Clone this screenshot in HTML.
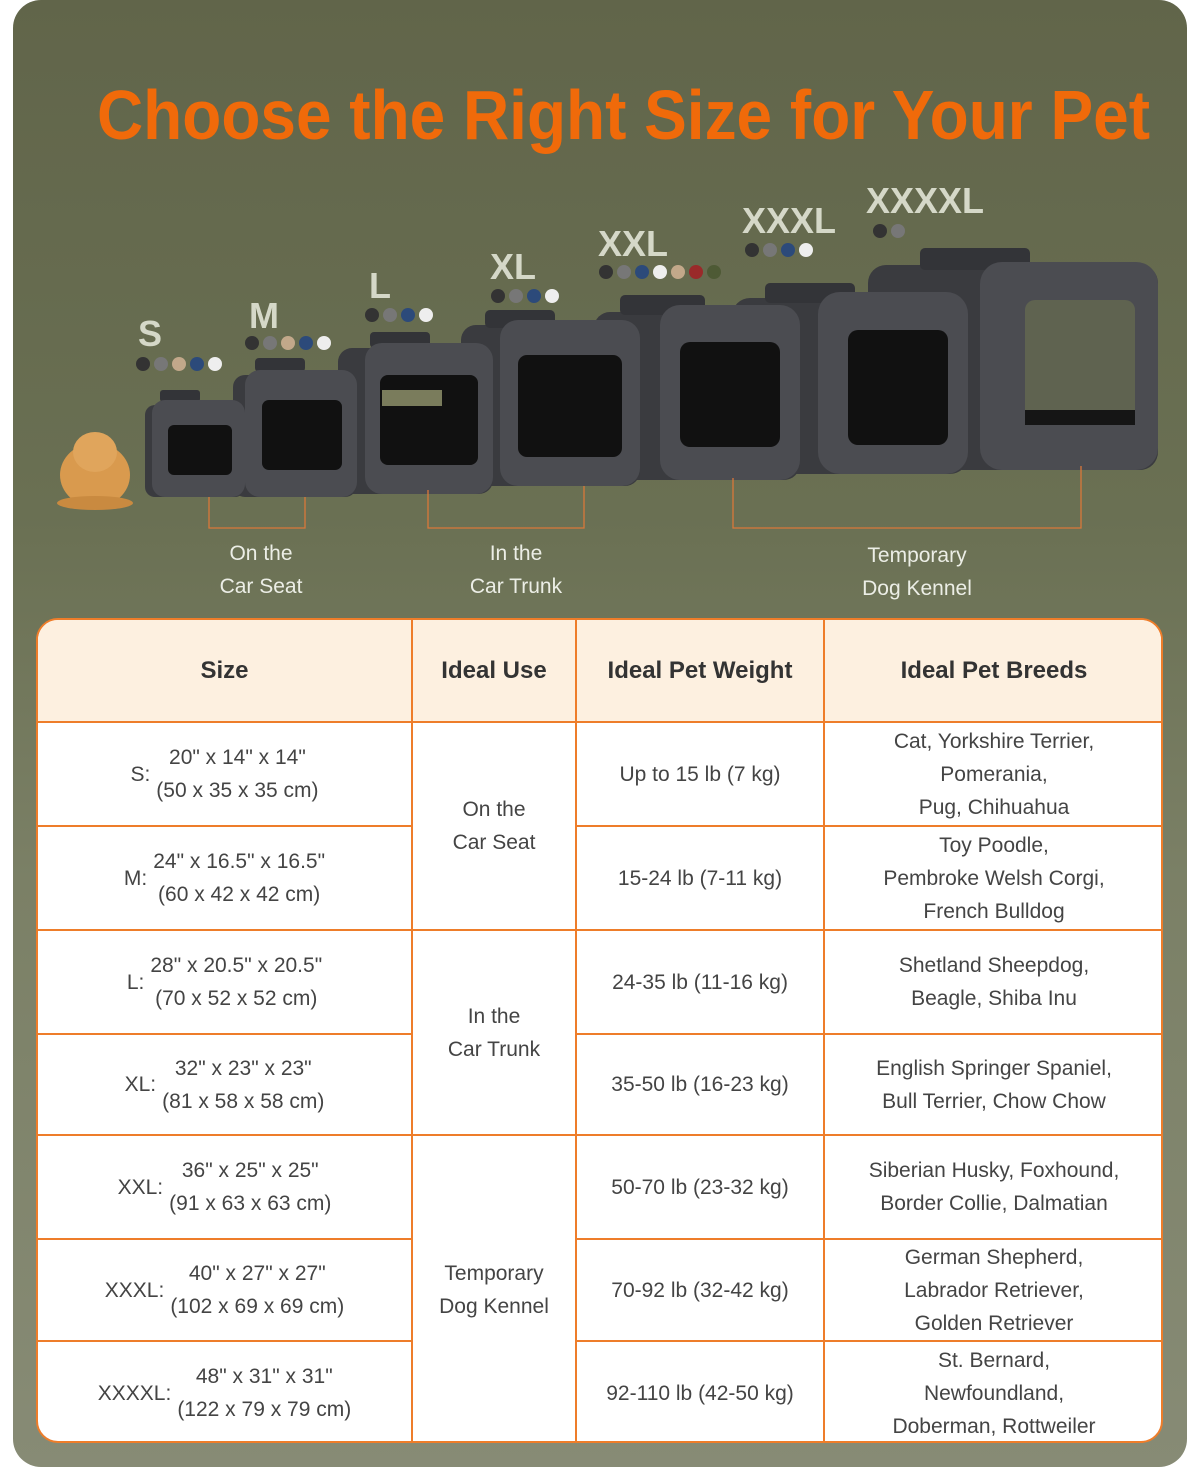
<!DOCTYPE html>
<html><head><meta charset="utf-8"><style>
html,body{margin:0;padding:0;background:#fff;}
#card{position:absolute;left:13px;top:0;width:1174px;height:1467px;border-radius:28px;background:linear-gradient(180deg,#61654a 0%,#6a7053 35%,#7b8066 60%,#878b75 100%);overflow:hidden;}
.ab{position:absolute;}
.lbl{position:absolute;color:#eceee6;font:21px "Liberation Sans",sans-serif;text-align:center;line-height:33px;}
#tw{position:absolute;left:36px;top:618px;width:1123px;height:821px;border:2px solid #ee7d2a;border-radius:22px;overflow:hidden;background:#fff;}
table{border-collapse:collapse;width:1127px;margin:-2px 0 0 -2px;font:21px "Liberation Sans",sans-serif;color:#444;table-layout:fixed;}
td,th{border:2px solid #ee7d2a;text-align:center;vertical-align:middle;padding:0;line-height:33px;}
th{background:#fdf0e0;color:#333;font-weight:bold;font-size:24px;height:101px;}
.sz{display:flex;align-items:center;justify-content:center;gap:6px;}
</style></head><body>
<div id="card">
<svg class="ab" style="left:-13px;top:0" width="1200" height="620" xmlns="http://www.w3.org/2000/svg">
<text x="97" y="139" textLength="1053" lengthAdjust="spacingAndGlyphs" font-family="Liberation Sans" font-weight="bold" font-size="70" fill="#f06a0a">Choose the Right Size for Your Pet</text>
<g font-family="Liberation Sans" font-weight="bold" fill="#d5d8c8" font-size="36">
<text x="138" y="346">S</text><text x="249" y="328">M</text><text x="369" y="298">L</text><text x="490" y="279">XL</text><text x="598" y="256">XXL</text><text x="742" y="233">XXXL</text><text x="866" y="213">XXXXL</text></g>
<g>
<circle cx="143" cy="364" r="7" fill="#333"/><circle cx="161" cy="364" r="7" fill="#777"/><circle cx="179" cy="364" r="7" fill="#c2a88a"/><circle cx="197" cy="364" r="7" fill="#2c4a7a"/><circle cx="215" cy="364" r="7" fill="#eee"/>
<circle cx="252" cy="343" r="7" fill="#333"/><circle cx="270" cy="343" r="7" fill="#777"/><circle cx="288" cy="343" r="7" fill="#c2a88a"/><circle cx="306" cy="343" r="7" fill="#2c4a7a"/><circle cx="324" cy="343" r="7" fill="#eee"/>
<circle cx="372" cy="315" r="7" fill="#333"/><circle cx="390" cy="315" r="7" fill="#777"/><circle cx="408" cy="315" r="7" fill="#2c4a7a"/><circle cx="426" cy="315" r="7" fill="#eee"/>
<circle cx="498" cy="296" r="7" fill="#333"/><circle cx="516" cy="296" r="7" fill="#777"/><circle cx="534" cy="296" r="7" fill="#2c4a7a"/><circle cx="552" cy="296" r="7" fill="#eee"/>
<circle cx="606" cy="272" r="7" fill="#333"/><circle cx="624" cy="272" r="7" fill="#777"/><circle cx="642" cy="272" r="7" fill="#2c4a7a"/><circle cx="660" cy="272" r="7" fill="#eee"/><circle cx="678" cy="272" r="7" fill="#c2a88a"/><circle cx="696" cy="272" r="7" fill="#9a2a2a"/><circle cx="714" cy="272" r="7" fill="#4e5a35"/>
<circle cx="752" cy="250" r="7" fill="#333"/><circle cx="770" cy="250" r="7" fill="#777"/><circle cx="788" cy="250" r="7" fill="#2c4a7a"/><circle cx="806" cy="250" r="7" fill="#eee"/>
<circle cx="880" cy="231" r="7" fill="#333"/><circle cx="898" cy="231" r="7" fill="#777"/>
</g>
<!-- dog -->
<ellipse cx="95" cy="475" rx="35" ry="32" fill="#d99a4e"/><ellipse cx="95" cy="452" rx="22" ry="20" fill="#e0a55c"/><ellipse cx="95" cy="503" rx="38" ry="7" fill="#c98a40"/>
<!-- crates -->
<g>
<rect x="868" y="265" width="290" height="205" rx="18" fill="#3a3b3f"/><rect x="920" y="248" width="110" height="22" rx="5" fill="#333438"/><rect x="980" y="262" width="178" height="208" rx="22" fill="#4b4c51"/><rect x="1025" y="300" width="110" height="125" rx="10" fill="#5f6350"/><rect x="1025" y="410" width="110" height="15" fill="#151515"/>
<rect x="732" y="298" width="236" height="176" rx="18" fill="#3a3b3f"/><rect x="765" y="283" width="90" height="20" rx="5" fill="#333438"/><rect x="818" y="292" width="150" height="182" rx="22" fill="#4b4c51"/><rect x="848" y="330" width="100" height="115" rx="10" fill="#111"/>
<rect x="594" y="312" width="206" height="168" rx="16" fill="#3a3b3f"/><rect x="620" y="295" width="85" height="20" rx="5" fill="#333438"/><rect x="660" y="305" width="140" height="175" rx="20" fill="#4b4c51"/><rect x="680" y="342" width="100" height="105" rx="10" fill="#111"/>
<rect x="461" y="325" width="179" height="161" rx="15" fill="#3a3b3f"/><rect x="485" y="310" width="70" height="18" rx="5" fill="#333438"/><rect x="500" y="320" width="140" height="166" rx="18" fill="#4b4c51"/><rect x="518" y="355" width="104" height="102" rx="9" fill="#111"/>
<rect x="338" y="348" width="155" height="146" rx="14" fill="#3a3b3f"/><rect x="370" y="332" width="60" height="16" rx="4" fill="#333438"/><rect x="365" y="343" width="128" height="151" rx="17" fill="#4b4c51"/><rect x="380" y="375" width="98" height="90" rx="8" fill="#111"/><rect x="382" y="390" width="60" height="16" fill="#7a7c5c"/>
<rect x="233" y="375" width="124" height="122" rx="12" fill="#3a3b3f"/><rect x="255" y="358" width="50" height="14" rx="4" fill="#333438"/><rect x="245" y="370" width="112" height="127" rx="15" fill="#4b4c51"/><rect x="262" y="400" width="80" height="70" rx="7" fill="#111"/>
<rect x="145" y="405" width="100" height="92" rx="10" fill="#3a3b3f"/><rect x="160" y="390" width="40" height="12" rx="3" fill="#333438"/><rect x="152" y="400" width="93" height="97" rx="13" fill="#4b4c51"/><rect x="168" y="425" width="64" height="50" rx="6" fill="#111"/>
</g>
<g stroke="#d9783a" stroke-width="1.3" fill="none">
<path d="M209 497 V528 H305 V497"/><path d="M428 490 V528 H584 V486"/><path d="M733 478 V528 H1081 V466"/>
</g>
</svg>
<div class="lbl" style="left:188px;top:537px;width:120px">On the<br>Car Seat</div>
<div class="lbl" style="left:443px;top:537px;width:120px">In the<br>Car Trunk</div>
<div class="lbl" style="left:824px;top:539px;width:160px">Temporary<br>Dog Kennel</div>
</div>
<div id="tw"><table>
<colgroup><col style="width:375px"><col style="width:164px"><col style="width:248px"><col style="width:340px"></colgroup>
<tr><th>Size</th><th>Ideal Use</th><th>Ideal Pet Weight</th><th>Ideal Pet Breeds</th></tr>
<tr style="height:104px"><td><div class="sz"><span>S:</span><span>20" x 14" x 14"<br>(50 x 35 x 35 cm)</span></div></td><td rowspan="2">On the<br>Car Seat</td><td>Up to 15 lb (7 kg)</td><td>Cat, Yorkshire Terrier,<br>Pomerania,<br>Pug, Chihuahua</td></tr>
<tr style="height:104px"><td><div class="sz"><span>M:</span><span>24" x 16.5" x 16.5"<br>(60 x 42 x 42 cm)</span></div></td><td>15-24 lb (7-11 kg)</td><td>Toy Poodle,<br>Pembroke Welsh Corgi,<br>French Bulldog</td></tr>
<tr style="height:104px"><td><div class="sz"><span>L:</span><span>28" x 20.5" x 20.5"<br>(70 x 52 x 52 cm)</span></div></td><td rowspan="2">In the<br>Car Trunk</td><td>24-35 lb (11-16 kg)</td><td>Shetland Sheepdog,<br>Beagle, Shiba Inu</td></tr>
<tr style="height:101px"><td><div class="sz"><span>XL:</span><span>32" x 23" x 23"<br>(81 x 58 x 58 cm)</span></div></td><td>35-50 lb (16-23 kg)</td><td>English Springer Spaniel,<br>Bull Terrier, Chow Chow</td></tr>
<tr style="height:104px"><td><div class="sz"><span>XXL:</span><span>36" x 25" x 25"<br>(91 x 63 x 63 cm)</span></div></td><td rowspan="3">Temporary<br>Dog Kennel</td><td>50-70 lb (23-32 kg)</td><td>Siberian Husky, Foxhound,<br>Border Collie, Dalmatian</td></tr>
<tr style="height:102px"><td><div class="sz"><span>XXXL:</span><span>40" x 27" x 27"<br>(102 x 69 x 69 cm)</span></div></td><td>70-92 lb (32-42 kg)</td><td>German Shepherd,<br>Labrador Retriever,<br>Golden Retriever</td></tr>
<tr style="height:104px"><td><div class="sz"><span>XXXXL:</span><span>48" x 31" x 31"<br>(122 x 79 x 79 cm)</span></div></td><td>92-110 lb (42-50 kg)</td><td>St. Bernard,<br>Newfoundland,<br>Doberman, Rottweiler</td></tr>
</table></div>
</body></html>
